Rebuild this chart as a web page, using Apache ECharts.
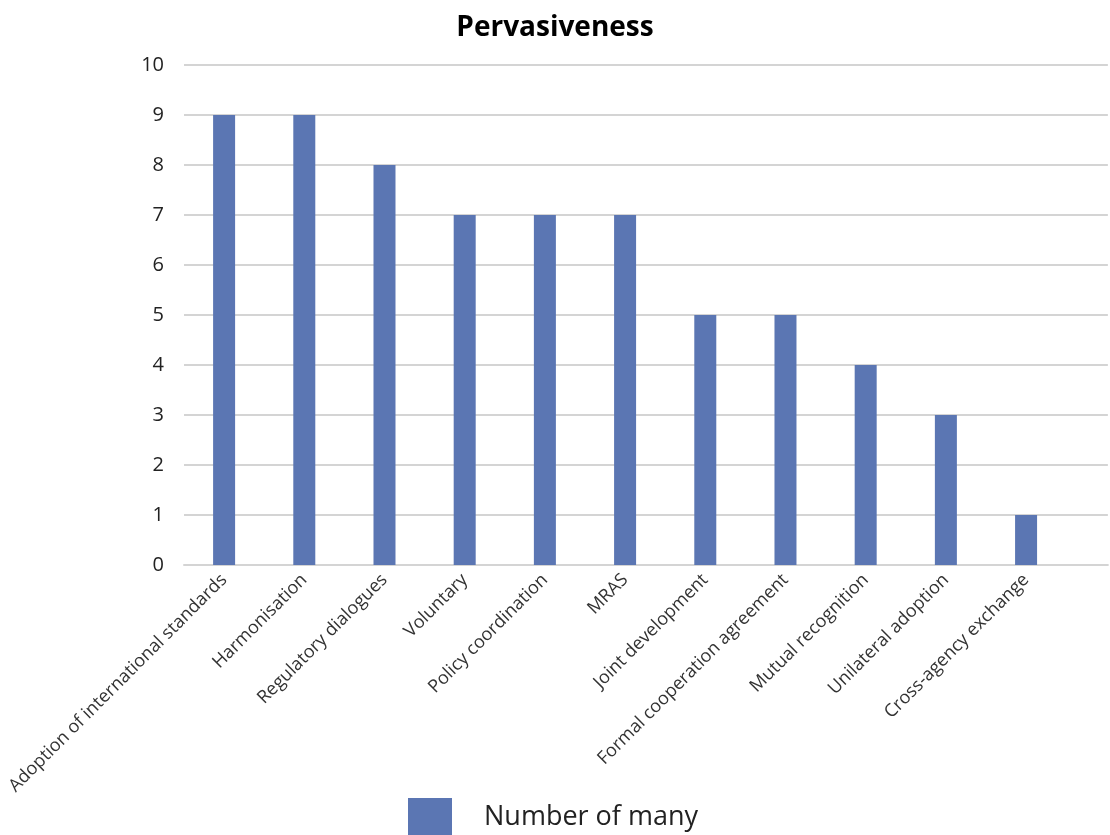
<!DOCTYPE html>
<html>
<head>
<meta charset="utf-8">
<script src="https://cdn.jsdelivr.net/npm/echarts@6/dist/echarts.min.js"></script>
<style>
  html, body { margin: 0; padding: 0; background: #fff; }
  #chart { width: 1110px; height: 835px; }
</style>
</head>
<body>
<div id="chart"></div>
<script>
const categories = [
  'Adoption of international standards',
  'Harmonisation',
  'Regulatory dialogues',
  'Voluntary',
  'Policy coordination',
  'MRAS',
  'Joint development',
  'Formal cooperation agreement',
  'Mutual recognition',
  'Unilateral adoption',
  'Cross-agency exchange'
]
const counts = [9, 9, 8, 7, 7, 7, 5, 5, 4, 3, 1]
const seriesName = 'Number of many'

// bars sit at band centres (i + 0.5) on a value axis so gridlines can run past the last band
const barData = counts.map((v, i) => [i + 0.5, v])

const chart = echarts.init(document.getElementById('chart'))
chart.setOption({
  animation: false,
  textStyle: { fontFamily: 'Open Sans, sans-serif' },
  title: {
    text: 'Pervasiveness',
    left: 'center',
    top: 9,
    textStyle: { fontSize: 28, fontWeight: 'bold', color: '#000', fontFamily: 'Open Sans, sans-serif' }
  },
  legend: {
    bottom: -6,
    left: 403,
    itemWidth: 44,
    itemHeight: 38,
    icon: 'rect',
    textStyle: { fontSize: 27, color: '#222', padding: [0, 0, 0, 27] },
    data: [seriesName]
  },
  grid: {
    left: 184,
    right: 0,
    top: 65,
    bottom: 270
  },
  xAxis: {
    type: 'value',
    min: 0,
    max: 11.52,
    interval: 0.5,
    axisLine: { show: true, lineStyle: { color: '#d4d4d4', width: 2 } },
    axisTick: { show: false },
    splitLine: { show: false },
    axisLabel: {
      rotate: 45,
      fontSize: 18,
      color: '#333',
      margin: 12,
      showMinLabel: true,
      showMaxLabel: true,
      formatter: function (v) {
        const i = Math.round(v - 0.5)
        if (Math.abs(v - 0.5 - i) > 0.01) return ''
        return categories[i] || ''
      }
    }
  },
  yAxis: {
    type: 'value',
    min: 0,
    max: 10,
    interval: 1,
    axisLine: { show: false },
    axisTick: { show: false },
    splitLine: { lineStyle: { color: '#d4d4d4', width: 2 } },
    axisLabel: { fontSize: 20, color: '#222', margin: 20 }
  },
  series: [
    {
      name: seriesName,
      type: 'bar',
      barWidth: 22,
      itemStyle: { color: '#5b76b3' },
      data: barData
    }
  ]
})
</script>
</body>
</html>
